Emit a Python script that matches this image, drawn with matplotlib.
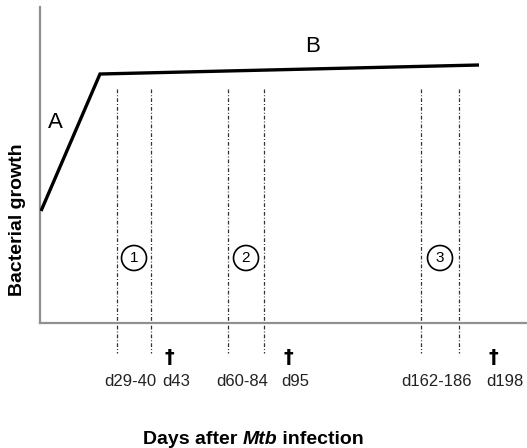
import matplotlib
matplotlib.use("Agg")
import matplotlib.pyplot as plt
from matplotlib.patches import Circle

plt.rcParams["font.family"] = ["Liberation Sans", "DejaVu Sans"]

# schematic units (not to scale), origin at the axes corner
growth_x = [1, 60, 439]
growth_y = [112, 249, 258]
phase_labels = ["A", "B"]
phase_pos = [(15, 201), (273, 276)]

win_start = [77, 188, 381]
win_end = [111, 224, 419]
win_ids = ["1", "2", "3"]
win_labels = ["d29-40", "d60-84", "d162-186"]

sac_x = [129, 248, 453]
sac_labels = ["d43", "d95", "d198"]

W, H = 527, 448
fig = plt.figure(figsize=(W / 100, H / 100), dpi=100)
ax = fig.add_axes([40 / W, 125 / H, 487 / W, 316 / H])
ax.set_xlim(0, 487)
ax.set_ylim(0, 316)
for s in ["top", "right"]:
    ax.spines[s].set_visible(False)
for s in ["left", "bottom"]:
    ax.spines[s].set_color("#909090")
    ax.spines[s].set_linewidth(1.6)
ax.set_xticks([])
ax.set_yticks([])

ax.plot(growth_x, growth_y, color="black", lw=2.4, solid_joinstyle="miter",
        solid_capstyle="butt", zorder=3)
for lab, (px, py) in zip(phase_labels, phase_pos):
    ax.text(px, py, lab, fontsize=16, ha="center", va="center")

dash = (0, (3, 1.6, 0.8, 1.6))
for i in range(len(win_start)):
    for xv in (win_start[i], win_end[i]):
        ax.plot([xv, xv], [234, -30], color="#333333", lw=0.9, ls=dash,
                clip_on=False)
    mid = (win_start[i] + win_end[i]) / 2
    ax.add_patch(Circle((mid, 65), 12.5, facecolor="white", edgecolor="black",
                        lw=1.2, zorder=4))
    ax.text(mid, 65, win_ids[i], fontsize=11, ha="center", va="center",
            zorder=5)
    ax.text(mid - 4, -58, win_labels[i], fontsize=12, ha="center",
            va="center", color="#222222", clip_on=False)

for xv, lab in zip(sac_x, sac_labels):
    ax.text(xv, -34, "\u2020", fontsize=14, fontweight="bold",
            family="DejaVu Sans", ha="center", va="center", clip_on=False)
    ax.text(xv - 7, -58, lab, fontsize=12, ha="left", va="center",
            color="#222222", clip_on=False)

fig.text(18 / W, 1 - 220 / H, "Bacterial growth", rotation=90, fontsize=14,
         fontweight="bold", ha="center", va="center")

# x label with italic "Mtb"
t1 = fig.text(143 / W, 1 - 444 / H, "Days after ", fontsize=14,
              fontweight="bold", ha="left", va="baseline")
t2 = ax.annotate("Mtb", xy=(1, 0), xycoords=t1, fontsize=14,
                 fontweight="bold", style="italic", ha="left", va="bottom",
                 annotation_clip=False)
ax.annotate(" infection", xy=(1, 0), xycoords=t2, fontsize=14,
            fontweight="bold", ha="left", va="bottom", annotation_clip=False)

fig.savefig("out.png", dpi=100)
